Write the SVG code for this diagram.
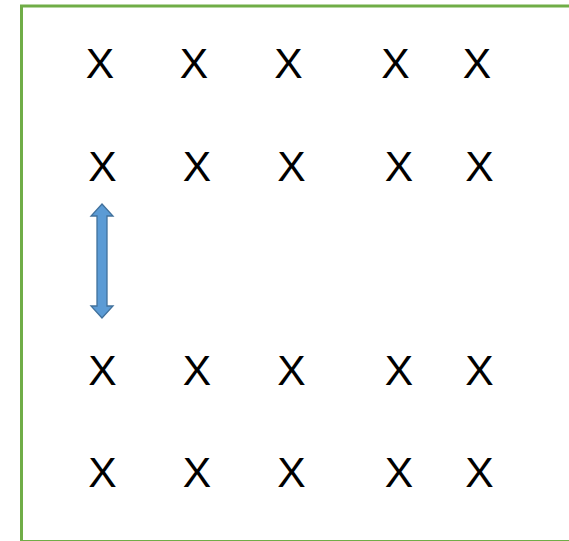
<svg xmlns="http://www.w3.org/2000/svg" width="569" height="541" viewBox="0 0 569 541">
<style>
.x{font-family:"Liberation Sans",Arial,sans-serif;font-size:42.6px;fill:#000;text-anchor:middle}
.frame{fill:none;stroke:#70AD47;stroke-width:3}
.arrow{fill:#5B9BD5;stroke:#41719C;stroke-width:1.3}
</style>
<rect width="569" height="541" fill="#fff"/>
<g id="frame"><rect class="frame" x="21.5" y="6" width="600" height="535.5"/></g>
<g id="row1">
<text class="x" x="100" y="78">X</text>
<text class="x" x="194" y="78">X</text>
<text class="x" x="288.5" y="78">X</text>
<text class="x" x="395.5" y="78">X</text>
<text class="x" x="477" y="78">X</text>
</g>
<g id="row2">
<text class="x" x="102.5" y="181">X</text>
<text class="x" x="197" y="181">X</text>
<text class="x" x="291.5" y="181">X</text>
<text class="x" x="399" y="181">X</text>
<text class="x" x="479.5" y="181">X</text>
</g>
<g id="row3">
<text class="x" x="102.5" y="385">X</text>
<text class="x" x="197" y="385">X</text>
<text class="x" x="291.5" y="385">X</text>
<text class="x" x="399" y="385">X</text>
<text class="x" x="479.5" y="385">X</text>
</g>
<g id="row4">
<text class="x" x="102.5" y="487">X</text>
<text class="x" x="197" y="487">X</text>
<text class="x" x="291.5" y="487">X</text>
<text class="x" x="399" y="487">X</text>
<text class="x" x="479.5" y="487">X</text>
</g>
<g id="connectors">
<path class="arrow" d="M102,204 L113,216 L107,216 L107,306 L113,306 L102,318 L91,306 L97,306 L97,216 L91,216 Z"/>
</g>
</svg>
